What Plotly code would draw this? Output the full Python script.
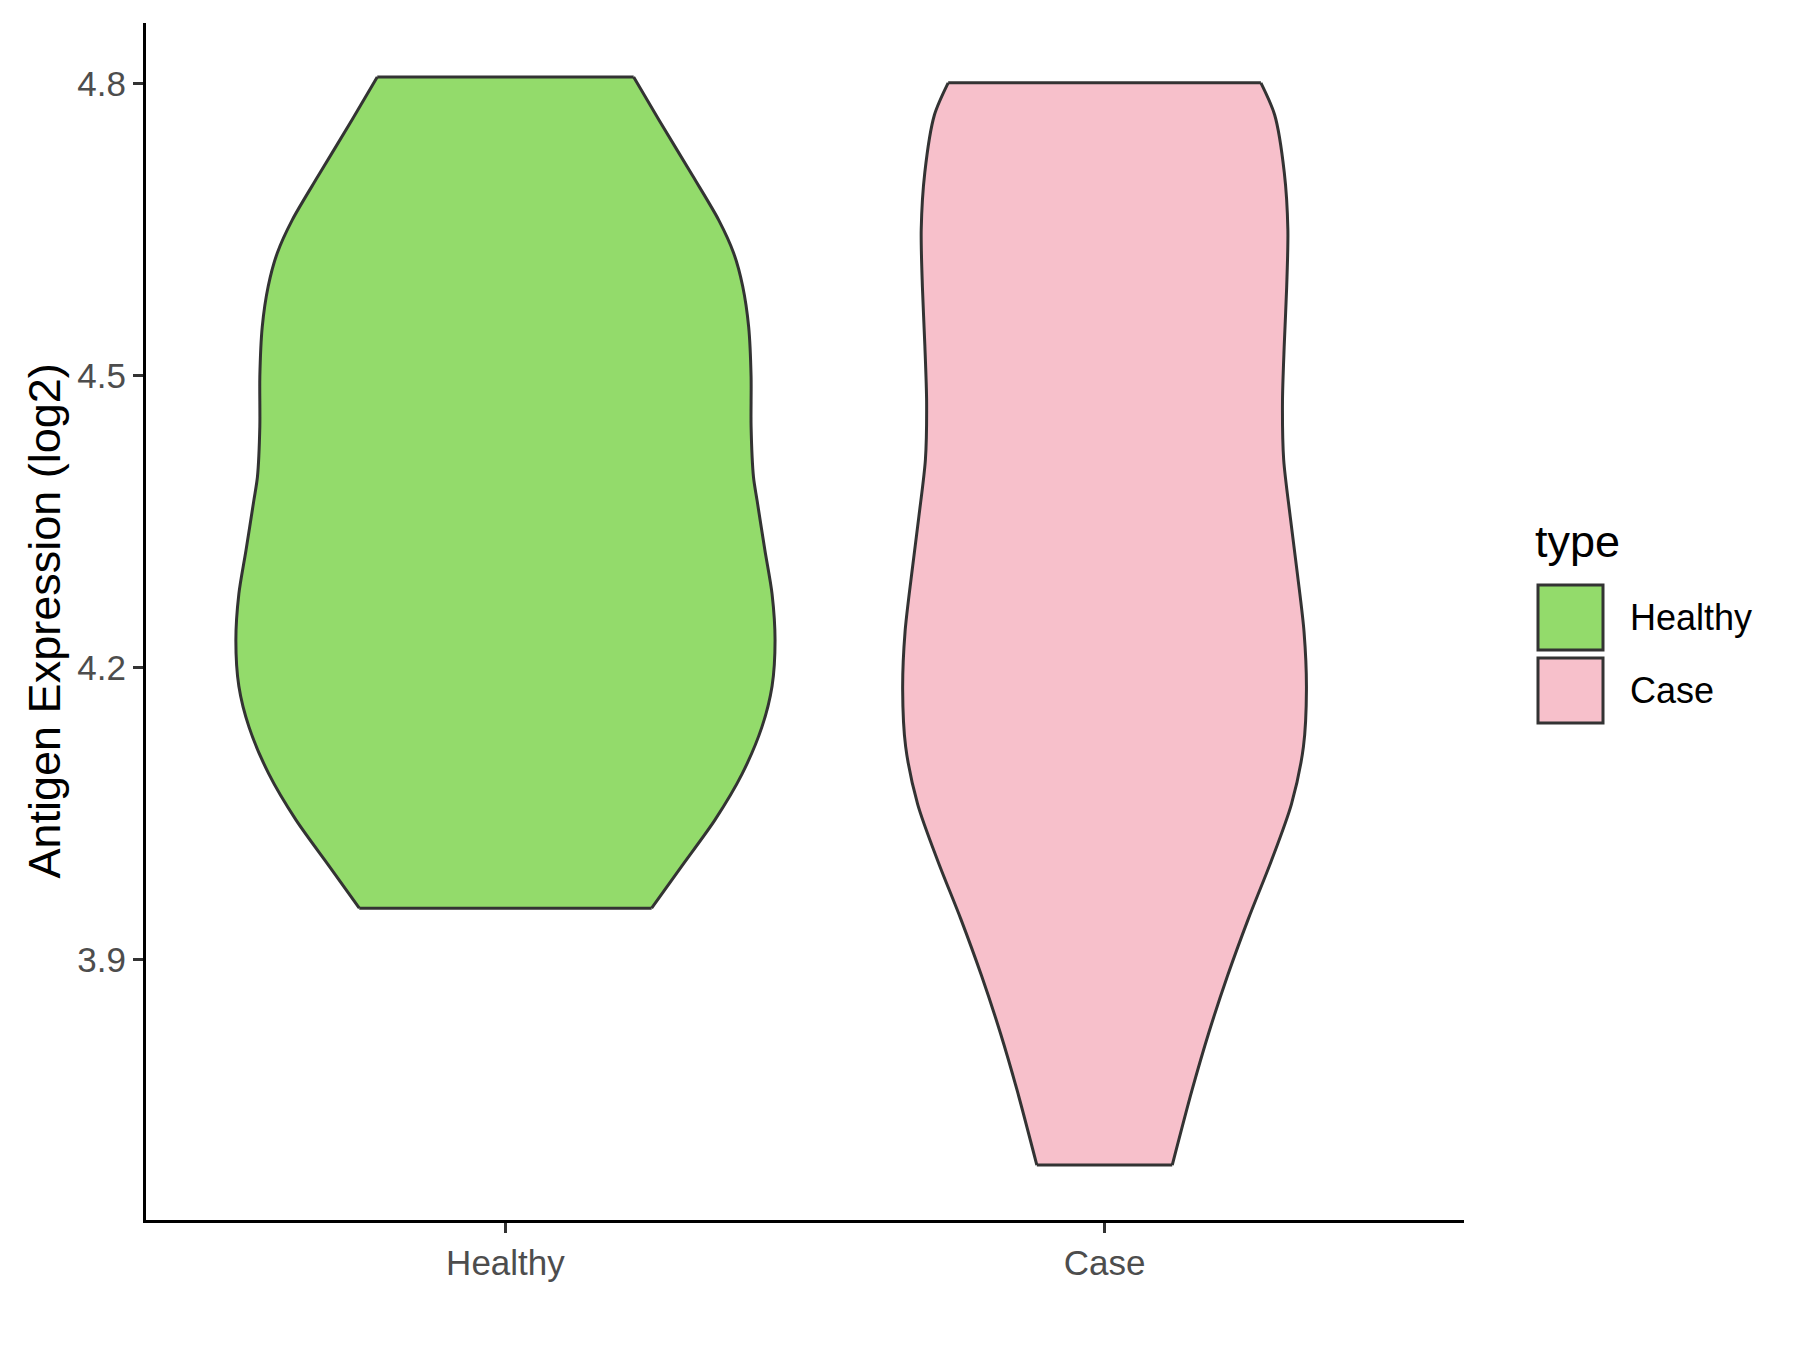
import plotly.graph_objects as go

# ---- data ----
categories = ["Healthy", "Case"]
fill_colors = ["#93DB6B", "#F7C0CB"]

# Healthy violin: y levels (log2 expression) and half-widths (category units)
healthy_y = [3.953, 3.996, 4.044, 4.091, 4.139, 4.181, 4.228, 4.276, 4.321, 4.372,
             4.396, 4.448, 4.499, 4.550, 4.592, 4.626, 4.660, 4.705, 4.763, 4.807]
healthy_hw = [0.244, 0.294, 0.350, 0.395, 0.428, 0.445, 0.450, 0.445, 0.433, 0.420,
              0.414, 0.410, 0.410, 0.406, 0.396, 0.381, 0.356, 0.313, 0.256, 0.214]

# Case violin
case_y = [3.689, 3.766, 3.825, 3.883, 3.942, 4.001, 4.060, 4.119, 4.178, 4.237,
          4.296, 4.355, 4.414, 4.473, 4.532, 4.591, 4.650, 4.709, 4.768, 4.801]
case_hw = [0.113, 0.146, 0.174, 0.205, 0.240, 0.278, 0.312, 0.332, 0.337, 0.333,
           0.322, 0.310, 0.299, 0.297, 0.300, 0.304, 0.306, 0.300, 0.284, 0.261]

y_ticks = [3.9, 4.2, 4.5, 4.8]
y_title = "Antigen Expression (log2)"
legend_title = "type"

profiles = [(healthy_y, healthy_hw), (case_y, case_hw)]

W, H = 1800, 1350
OFF = 8  # page offset of the figure inside the browser page
ML, MR, MT, MB = 146 - OFF, 336 + OFF, 23 - OFF, 130 + OFF
OUTLINE = "#333333"
LW = 3.0

fig = go.Figure()
for i, (cat, (ys, hws)) in enumerate(zip(categories, profiles)):
    c = i + 1
    left = [c - h for h in hws]
    right = [c + h for h in hws]
    fig.add_trace(go.Scatter(
        x=left, y=ys, mode="lines",
        line=dict(color=OUTLINE, width=LW, shape="spline", smoothing=0.8),
        showlegend=False, hoverinfo="skip"))
    fig.add_trace(go.Scatter(
        x=right, y=ys, mode="lines", fill="tonextx", fillcolor=fill_colors[i],
        line=dict(color=OUTLINE, width=LW, shape="spline", smoothing=0.8),
        name=cat, showlegend=False, hoverinfo="skip"))
    # flat trimmed ends (min and max of the data)
    fig.add_trace(go.Scatter(
        x=[left[0], right[0], None, left[-1], right[-1]],
        y=[ys[0], ys[0], None, ys[-1], ys[-1]],
        mode="lines", line=dict(color=OUTLINE, width=LW),
        showlegend=False, hoverinfo="skip"))

fig.update_layout(
    width=W, height=H,
    margin=dict(l=ML, r=MR, t=MT, b=MB),
    paper_bgcolor="white", plot_bgcolor="white",
    font=dict(family="Liberation Sans, Arial, sans-serif"),
    showlegend=False,
)
fig.update_xaxes(
    range=[0.4, 2.6], tickvals=[1, 2], ticktext=categories,
    showline=True, linecolor="black", linewidth=3.2,
    ticks="outside", ticklen=10, tickwidth=3, tickcolor="#333333",
    tickfont=dict(size=35, color="#4D4D4D"),
    showgrid=False, zeroline=False,
)
fig.update_yaxes(
    range=[3.6326, 4.8625], tickvals=y_ticks, ticktext=[f"{v:.1f}" for v in y_ticks],
    showline=True, linecolor="black", linewidth=3.2,
    ticks="outside", ticklen=10, tickwidth=3, tickcolor="#333333",
    tickfont=dict(size=35, color="#4D4D4D"),
    showgrid=False, zeroline=False,
)

# ---- helpers: figure pixel -> paper coordinates ----
pw = W - ML - MR
ph = H - MT - MB
def px_x(x):
    return (x - OFF - ML) / pw
def px_y(y):
    return (H - MB - (y - OFF)) / ph

# y-axis title
fig.add_annotation(x=px_x(44), y=0.5, xref="paper", yref="paper",
                   text=y_title, textangle=-90, showarrow=False,
                   xanchor="center", yanchor="middle",
                   font=dict(size=45, color="black"))

# ---- manual legend ----
fig.add_annotation(x=px_x(1533), y=px_y(541), xref="paper", yref="paper",
                   text=legend_title, showarrow=False, xanchor="left", yanchor="middle",
                   font=dict(size=45, color="black"))
key_top = 585
key_size = 65
for i, cat in enumerate(categories):
    y0 = key_top + i * (key_size + 8)
    fig.add_shape(type="rect", xref="paper", yref="paper",
                  x0=px_x(1538), x1=px_x(1538 + key_size),
                  y0=px_y(y0 + key_size), y1=px_y(y0),
                  fillcolor=fill_colors[i], line=dict(color=OUTLINE, width=3))
    fig.add_annotation(x=px_x(1628), y=px_y(y0 + key_size / 2), xref="paper", yref="paper",
                       text=cat, showarrow=False, xanchor="left", yanchor="middle",
                       font=dict(size=36, color="black"))

fig.write_html("out.html")
